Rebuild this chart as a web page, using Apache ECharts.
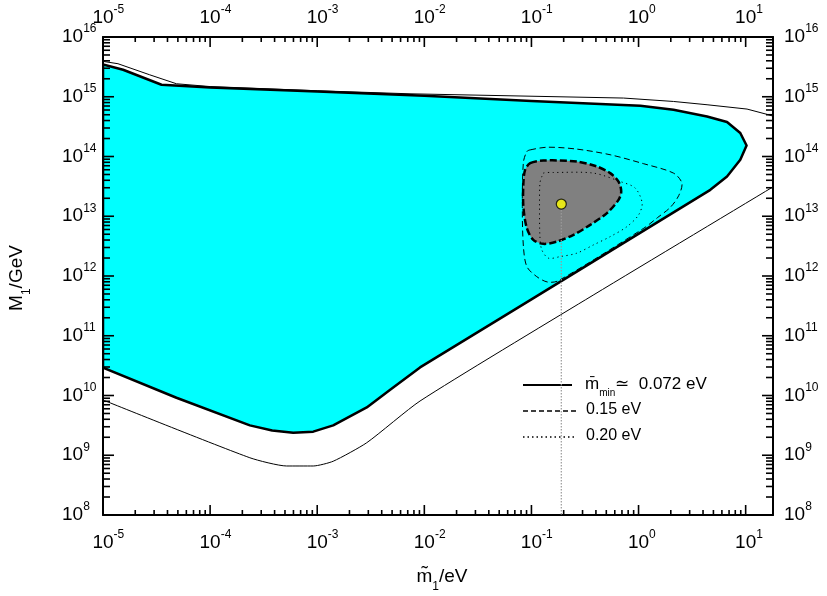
<!DOCTYPE html>
<html><head><meta charset="utf-8">
<script src="https://cdn.jsdelivr.net/npm/echarts@6/dist/echarts.min.js"></script>
<style>html,body{margin:0;padding:0;background:#fff}#c{width:827px;height:596px}</style>
</head><body><div id="c"></div><script>
// ---- axis ranges & ticks ----
const X_MIN = 1e-5, X_MAX = 18;
const Y_MIN = 1e8, Y_MAX = 1e16;
const xDecades = [-5, -4, -3, -2, -1, 0, 1];
const yDecades = [8, 9, 10, 11, 12, 13, 14, 15, 16];
const minorMultipliers = [2, 3, 4, 5, 6, 7, 8, 9];

// ---- data ----
// allowed region, thick solid boundary (mbar_min ~ 0.072 eV), filled cyan
const allowedRegion = [
  [1e-5, 3.47e15], [1.54e-5, 2.83e15], [3.52e-5, 1.59e15], [1e-4, 1.43e15],
  [1e-3, 1.23e15], [1e-2, 1.04e15], [0.1, 8.51e14], [1.04, 7.06e14],
  [2.12, 6.05e14], [4.36, 4.68e14], [6.70, 3.77e14], [8.91, 2.47e14],
  [10.2, 1.53e14], [8.91, 8.81e13], [6.70, 4.62e13], [4.68, 2.77e13],
  [0.1, 4.07e11], [9.12e-3, 2.95e10], [4.8e-3, 1.25e10], [2.90e-3, 6.31e9], [1.41e-3, 3.16e9],
  [9.18e-4, 2.48e9], [5.97e-4, 2.38e9], [3.8e-4, 2.6e9], [2.35e-4, 3.16e9], [4.85e-5, 9.18e9],
  [1e-5, 2.93e10]
];
// thin solid outer bound, upper branch
const outerUpper = [
  [1e-5, 3.91e15], [1.38e-5, 3.57e15], [2.73e-5, 2.33e15], [4.85e-5, 1.65e15],
  [1e-4, 1.48e15], [1e-3, 1.26e15], [7.35e-3, 1.12e15], [0.724, 9.51e14],
  [2.12, 8.34e14], [4.36, 7.35e14], [10.3, 6.22e14], [16.4, 4.99e14], [22.4, 4.17e14]
];
// thin solid outer bound, lower branch
const outerLower = [
  [1e-5, 8.41e9], [2.35e-4, 9.08e8], [5.18e-4, 6.61e8], [9.18e-4, 6.61e8],
  [1.41e-3, 7.94e8], [2.90e-3, 1.62e9], [9.12e-3, 8.09e9], [0.318, 3.98e11],
  [18.2, 3.14e13], [25.1, 4.47e13]
];
// grey region, thick dashed boundary
const greyRegion = [
  [0.0973, 7.74e13], [0.129, 8.57e13], [0.265, 8.24e13], [0.408, 6.81e13],
  [0.544, 5.27e13], [0.650, 3.81e13], [0.689, 2.59e13], [0.650, 1.88e13],
  [0.507, 1.13e13], [0.354, 7.18e12], [0.247, 4.88e12], [0.173, 3.77e12],
  [0.129, 3.45e12], [0.104, 4.03e12], [0.0906, 6.32e12], [0.0841, 1.45e13],
  [0.0841, 3.58e13], [0.0873, 5.98e13]
];
// thin dashed contour (0.15 eV)
const dashedContour = [
  [0.0973, 1.29e14], [0.141, 1.43e14], [0.265, 1.33e14], [0.543, 1.07e14],
  [1.11, 7.59e13], [2.12, 5.27e13], [2.54, 3.58e13], [2.37, 2.21e13],
  [1.98, 1.41e13], [1.51, 9.55e12], [1.12, 6.31e12], [0.178, 8.32e11],
  [0.141, 7.94e11], [0.112, 9.77e11], [0.0906, 1.44e12], [0.0841, 3.16e12],
  [0.0822, 1.45e13], [0.0841, 7.94e13], [0.0906, 1.21e14]
];
// dotted contour (0.20 eV)
const dottedContour = [
  [0.129, 5.27e13], [0.161, 5.40e13], [0.380, 5.27e13], [0.675, 3.81e13],
  [0.931, 2.96e13], [1.08, 1.66e13], [1.0, 1.05e13], [0.780, 6.71e12],
  [0.545, 4.57e12], [0.380, 3.32e12], [0.265, 2.41e12], [0.185, 2.11e12],
  [0.144, 1.99e12], [0.125, 2.74e12], [0.120, 4.57e12], [0.119, 1.45e13],
  [0.120, 3.58e13], [0.125, 4.62e13]
];
const bestPoint = [[0.19, 1.6e13]];
const bestPointDrop = [[0.19, 1.6e13], [0.19, 1e8]];
const legendLabels = ['0.072 eV', '0.15 eV', '0.20 eV'];

// ---- derived tick values ----
const xMajor = xDecades.map(d => Math.pow(10, d));
const yMajor = yDecades.map(d => Math.pow(10, d));
const xMinor = [], yMinor = [];
xDecades.forEach(d => minorMultipliers.forEach(k => { const v = k * Math.pow(10, d); if (v < X_MAX) xMinor.push(v); }));
yDecades.forEach(d => minorMultipliers.forEach(k => { const v = k * Math.pow(10, d); if (v < Y_MAX) yMinor.push(v); }));

const FONT = "'Liberation Sans', Arial, Helvetica, sans-serif";
function expOf(v) { const e = Math.log10(v); const r = Math.round(e); return Math.abs(e - r) > 1e-6 ? null : r; }
function fmtCentered(v) { const r = expOf(v); return r === null ? '' : '{h|' + r + '}{b|10}{s|' + r + '}'; }
function fmtPlain(v) { const r = expOf(v); return r === null ? '' : '{b|10}{s|' + r + '}'; }
const richLbl = {
  b: { fontSize: 19, fontFamily: FONT, color: '#000', lineHeight: 28 },
  s: { fontSize: 12, fontFamily: FONT, color: '#000', verticalAlign: 'top' },
  h: { fontSize: 12, fontFamily: FONT, color: '#fff', verticalAlign: 'top' }
};
const axisLine = { show: true, onZero: false, lineStyle: { color: '#000', width: 2 } };
function xAx(pos, margin) {
  return { type: 'log', logBase: 10, min: X_MIN, max: X_MAX, position: pos, splitNumber: 7,
    axisLine, axisTick: { show: false }, minorTick: { show: false }, splitLine: { show: false },
    axisLabel: { formatter: fmtCentered, rich: richLbl, margin } };
}
function yAx(pos, margin) {
  return { type: 'log', logBase: 10, min: Y_MIN, max: Y_MAX, position: pos, splitNumber: 8,
    axisLine, axisTick: { show: false }, minorTick: { show: false }, splitLine: { show: false },
    axisLabel: { formatter: fmtPlain, rich: richLbl, margin, align: 'left' } };
}

function polySeries(pts, style, z, smooth) {
  return { type: 'custom', xAxisIndex: 0, yAxisIndex: 0, clip: true, silent: true, z,
    data: pts, encode: { x: 0, y: 1 },
    renderItem: (params, api) => {
      if (params.dataIndex !== 0) return null;
      return { type: 'polygon', shape: { points: pts.map(p => api.coord(p)), smooth: smooth || 0 }, style };
    } };
}
function lineSeries(pts, lineStyle, z, smooth) {
  return { type: 'line', xAxisIndex: 0, yAxisIndex: 0, data: pts, showSymbol: false, symbol: 'none',
    clip: true, silent: true, z, smooth: smooth || false, lineStyle };
}

const chart = echarts.init(document.getElementById('c'), null, { renderer: 'canvas' });
const mainRich = {
  m: { fontSize: 19, fontFamily: FONT, color: '#000', lineHeight: 23, verticalAlign: 'top' },
  sub: { fontSize: 12, fontFamily: FONT, color: '#000', verticalAlign: 'top', padding: [14, 0, 0, 0] }
};
const legRich1 = {
  m: { fontSize: 17, fontFamily: FONT, color: '#000', lineHeight: 21, verticalAlign: 'top' },
  sub: { fontSize: 10, fontFamily: FONT, color: '#000', verticalAlign: 'top', padding: [12, 0, 0, 0] }
};
const legRich2 = {
  m: { fontSize: 16, fontFamily: FONT, color: '#000', lineHeight: 20, verticalAlign: 'top' }
};
const baseGraphic = [
  { type: 'text', x: 442, y: 580, style: { text: '{m|m\u0303}{sub|1}{m|/eV}', rich: mainRich, align: 'center', verticalAlign: 'middle' } },
  { type: 'text', x: 20, y: 278, rotation: Math.PI / 2, style: { text: '{m|M}{sub|1}{m|/GeV}', rich: mainRich, align: 'center', verticalAlign: 'middle' } },
  { type: 'line', shape: { x1: 523, y1: 385, x2: 572, y2: 385 }, style: { stroke: '#000', lineWidth: 2 } },
  { type: 'line', shape: { x1: 523, y1: 411, x2: 576, y2: 411 }, style: { stroke: '#000', lineWidth: 1.5, lineDash: [5, 3] } },
  { type: 'line', shape: { x1: 523, y1: 437, x2: 574, y2: 437 }, style: { stroke: '#000', lineWidth: 1.5, lineDash: [1.5, 3] } },
  { type: 'text', x: 585, y: 387, style: { text: '{m|m\u0304}{sub|min}{m|\u2243  ' + legendLabels[0] + '}', rich: legRich1, align: 'left', verticalAlign: 'middle' } },
  { type: 'text', x: 586, y: 412, style: { text: '{m|' + legendLabels[1] + '}', rich: legRich2, align: 'left', verticalAlign: 'middle' } },
  { type: 'text', x: 586, y: 438, style: { text: '{m|' + legendLabels[2] + '}', rich: legRich2, align: 'left', verticalAlign: 'middle' } }
];
chart.setOption({
  animation: false,
  grid: { left: 103, right: 54, top: 37, bottom: 81, containLabel: false },
  xAxis: [xAx('bottom', 14), xAx('top', 5)],
  yAxis: [yAx('left', 41), yAx('right', 11)],
  series: [
    polySeries(allowedRegion, { fill: '#00ffff', stroke: '#000', lineWidth: 2.5, lineJoin: 'round' }, 1, 0),
    lineSeries(outerUpper, { color: '#000', width: 1 }, 2),
    lineSeries(outerLower, { color: '#000', width: 1 }, 2, 0.2),
    polySeries(dashedContour, { fill: 'none', stroke: '#000', lineWidth: 1, lineDash: [6, 3.5] }, 3, 0.3),
    polySeries(greyRegion, { fill: '#808080', stroke: '#000', lineWidth: 2.5, lineDash: [7, 3] }, 4, 0.3),
    polySeries(dottedContour, { fill: 'none', stroke: '#000', lineWidth: 1, lineDash: [1.2, 3.5] }, 5, 0.3),
    lineSeries(bestPointDrop, { color: '#9a9a9a', width: 1.2, type: [1.5, 1.5] }, 6),
    { type: 'scatter', xAxisIndex: 0, yAxisIndex: 0, data: bestPoint, symbol: 'circle', symbolSize: 10, silent: true, z: 7,
      itemStyle: { color: '#ffff00', borderColor: '#000', borderWidth: 1.2 } }
  ],
  graphic: baseGraphic
});

// inward tick marks, positioned through the chart's own log scales
const tickGraphic = [];
const toPx = p => chart.convertToPixel({ xAxisIndex: 0, yAxisIndex: 0 }, p);
const lo = toPx([X_MIN, Y_MIN]), hi = toPx([X_MAX, Y_MAX]);
const seg = (x1, y1, x2, y2) => tickGraphic.push({ type: 'line', silent: true, z: 50,
  shape: { x1, y1, x2, y2 }, style: { stroke: '#000', lineWidth: 1.6 } });
const xTick = (v, len) => { const x = toPx([v, Y_MIN])[0]; seg(x, lo[1], x, lo[1] - len); seg(x, hi[1], x, hi[1] + len); };
const yTick = (v, len) => { const y = toPx([X_MIN, v])[1]; seg(lo[0], y, lo[0] + len, y); seg(hi[0], y, hi[0] - len, y); };
xMajor.forEach(v => xTick(v, 10)); xMinor.forEach(v => xTick(v, 5));
yMajor.forEach(v => yTick(v, 11)); yMinor.forEach(v => yTick(v, 7));
chart.setOption({ graphic: baseGraphic.concat(tickGraphic) });
</script></body></html>
